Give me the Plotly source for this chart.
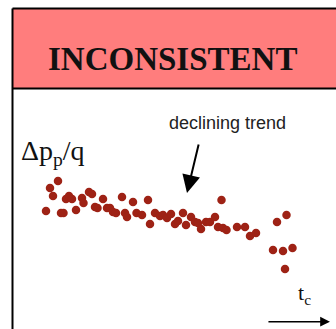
import plotly.graph_objects as go

# Data (time, normalized pressure change)
t_values = [0.72, 0.40, 0.52, 0.24, 1.04, 1.16, 1.28, 0.84, 0.94, 1.44,
            1.68, 1.74, 1.96, 2.08, 2.20, 2.30, 2.52, 2.68, 2.80, 2.92,
            3.04, 3.28, 3.40, 3.48, 3.72, 3.86, 4.08, 4.32, 4.40, 4.60,
            4.80, 4.92, 5.08, 5.24, 5.40, 5.52, 5.72, 5.84, 6.04, 6.20,
            6.32, 6.44, 6.64, 6.80, 7.00, 7.12, 7.26, 7.32, 7.46, 7.88,
            8.20, 8.40, 8.64, 9.48, 9.86, 9.32, 9.72, 10.10, 9.80]
dp_values = [10.9, 10.2, 9.4, 7.9, 9.1, 9.4, 9.1, 7.7, 7.7, 8.0,
             9.2, 8.7, 9.8, 9.6, 8.3, 8.2, 9.1, 8.2, 8.2, 7.8,
             7.7, 9.3, 7.7, 7.3, 8.8, 7.7, 7.5, 9.0, 6.6, 7.7,
             7.4, 7.5, 7.2, 7.6, 6.6, 6.9, 7.7, 6.5, 7.3, 6.8,
             6.7, 6.1, 6.8, 6.8, 7.3, 6.3, 9.0, 6.2, 6.0, 6.3,
             6.3, 5.4, 5.7, 6.8, 7.5, 4.0, 3.9, 4.2, 2.1]

title_text = "INCONSISTENT"
trend_text = "declining trend"
y_label = "Δp<sub>p</sub>/q"
x_label = "t<sub>c</sub>"

fig = go.Figure()
fig.add_trace(go.Scatter(
    x=t_values, y=dp_values, mode="markers",
    marker=dict(size=8.5, color="#9E2215", line=dict(width=0)),
    hoverinfo="skip", showlegend=False,
))

fig.update_layout(
    width=336, height=329,
    margin=dict(l=0, r=0, t=0, b=0),
    paper_bgcolor="white", plot_bgcolor="white",
    xaxis=dict(range=[-1.6, 11.84], visible=False, fixedrange=True),
    yaxis=dict(range=[-3.9, 29.0], visible=False, fixedrange=True),
    showlegend=False,
)

# pink header fill
fig.add_shape(type="rect", xref="paper", yref="paper",
              x0=0.0372, x1=1.0, y0=0.731, y1=0.974,
              line=dict(width=0), fillcolor="#FF7D7D", layer="below")
# frame lines: top, header bottom, left
for (x0, y0, x1, y1) in [(0.0372, 0.974, 1.0, 0.974),
                         (0.0372, 0.731, 1.0, 0.731),
                         (0.0372, 0.0, 0.0372, 0.974)]:
    fig.add_shape(type="line", xref="paper", yref="paper",
                  x0=x0, y0=y0, x1=x1, y1=y1,
                  line=dict(color="black", width=2), layer="below")

fig.add_annotation(text="<b>" + title_text + "</b>", xref="paper", yref="paper",
                   x=0.512, y=0.822, showarrow=False, xanchor="center", yanchor="middle",
                   font=dict(family="Liberation Serif", size=33, color="#111111"))

fig.add_annotation(text=trend_text, xref="paper", yref="paper",
                   x=0.677, y=0.627, showarrow=False, xanchor="center", yanchor="middle",
                   font=dict(family="Liberation Sans", size=18, color="#222222"))

# trend arrow
fig.add_annotation(text="", xref="paper", yref="paper",
                   x=0.5565, y=0.4134, ax=12, ay=-50,
                   showarrow=True, arrowhead=2, arrowsize=1.8, arrowwidth=2,
                   arrowcolor="black")

fig.add_annotation(text=y_label, xref="paper", yref="paper",
                   x=0.058, y=0.535, showarrow=False, xanchor="left", yanchor="middle",
                   font=dict(family="Liberation Serif", size=28, color="#111111"))

fig.add_annotation(text=x_label, xref="paper", yref="paper",
                   x=0.905, y=0.105, showarrow=False, xanchor="center", yanchor="middle",
                   font=dict(family="Liberation Serif", size=22, color="#111111"))

# time arrow
fig.add_annotation(text="", xref="paper", yref="paper",
                   x=0.982, y=0.0222, ax=-63, ay=0,
                   showarrow=True, arrowhead=2, arrowsize=1.3, arrowwidth=1.5,
                   arrowcolor="black")

fig.write_html(
    "out.html",
    config={"displayModeBar": False, "staticPlot": True},
    post_script="document.body.style.margin='0';document.body.style.overflow='hidden';",
)
